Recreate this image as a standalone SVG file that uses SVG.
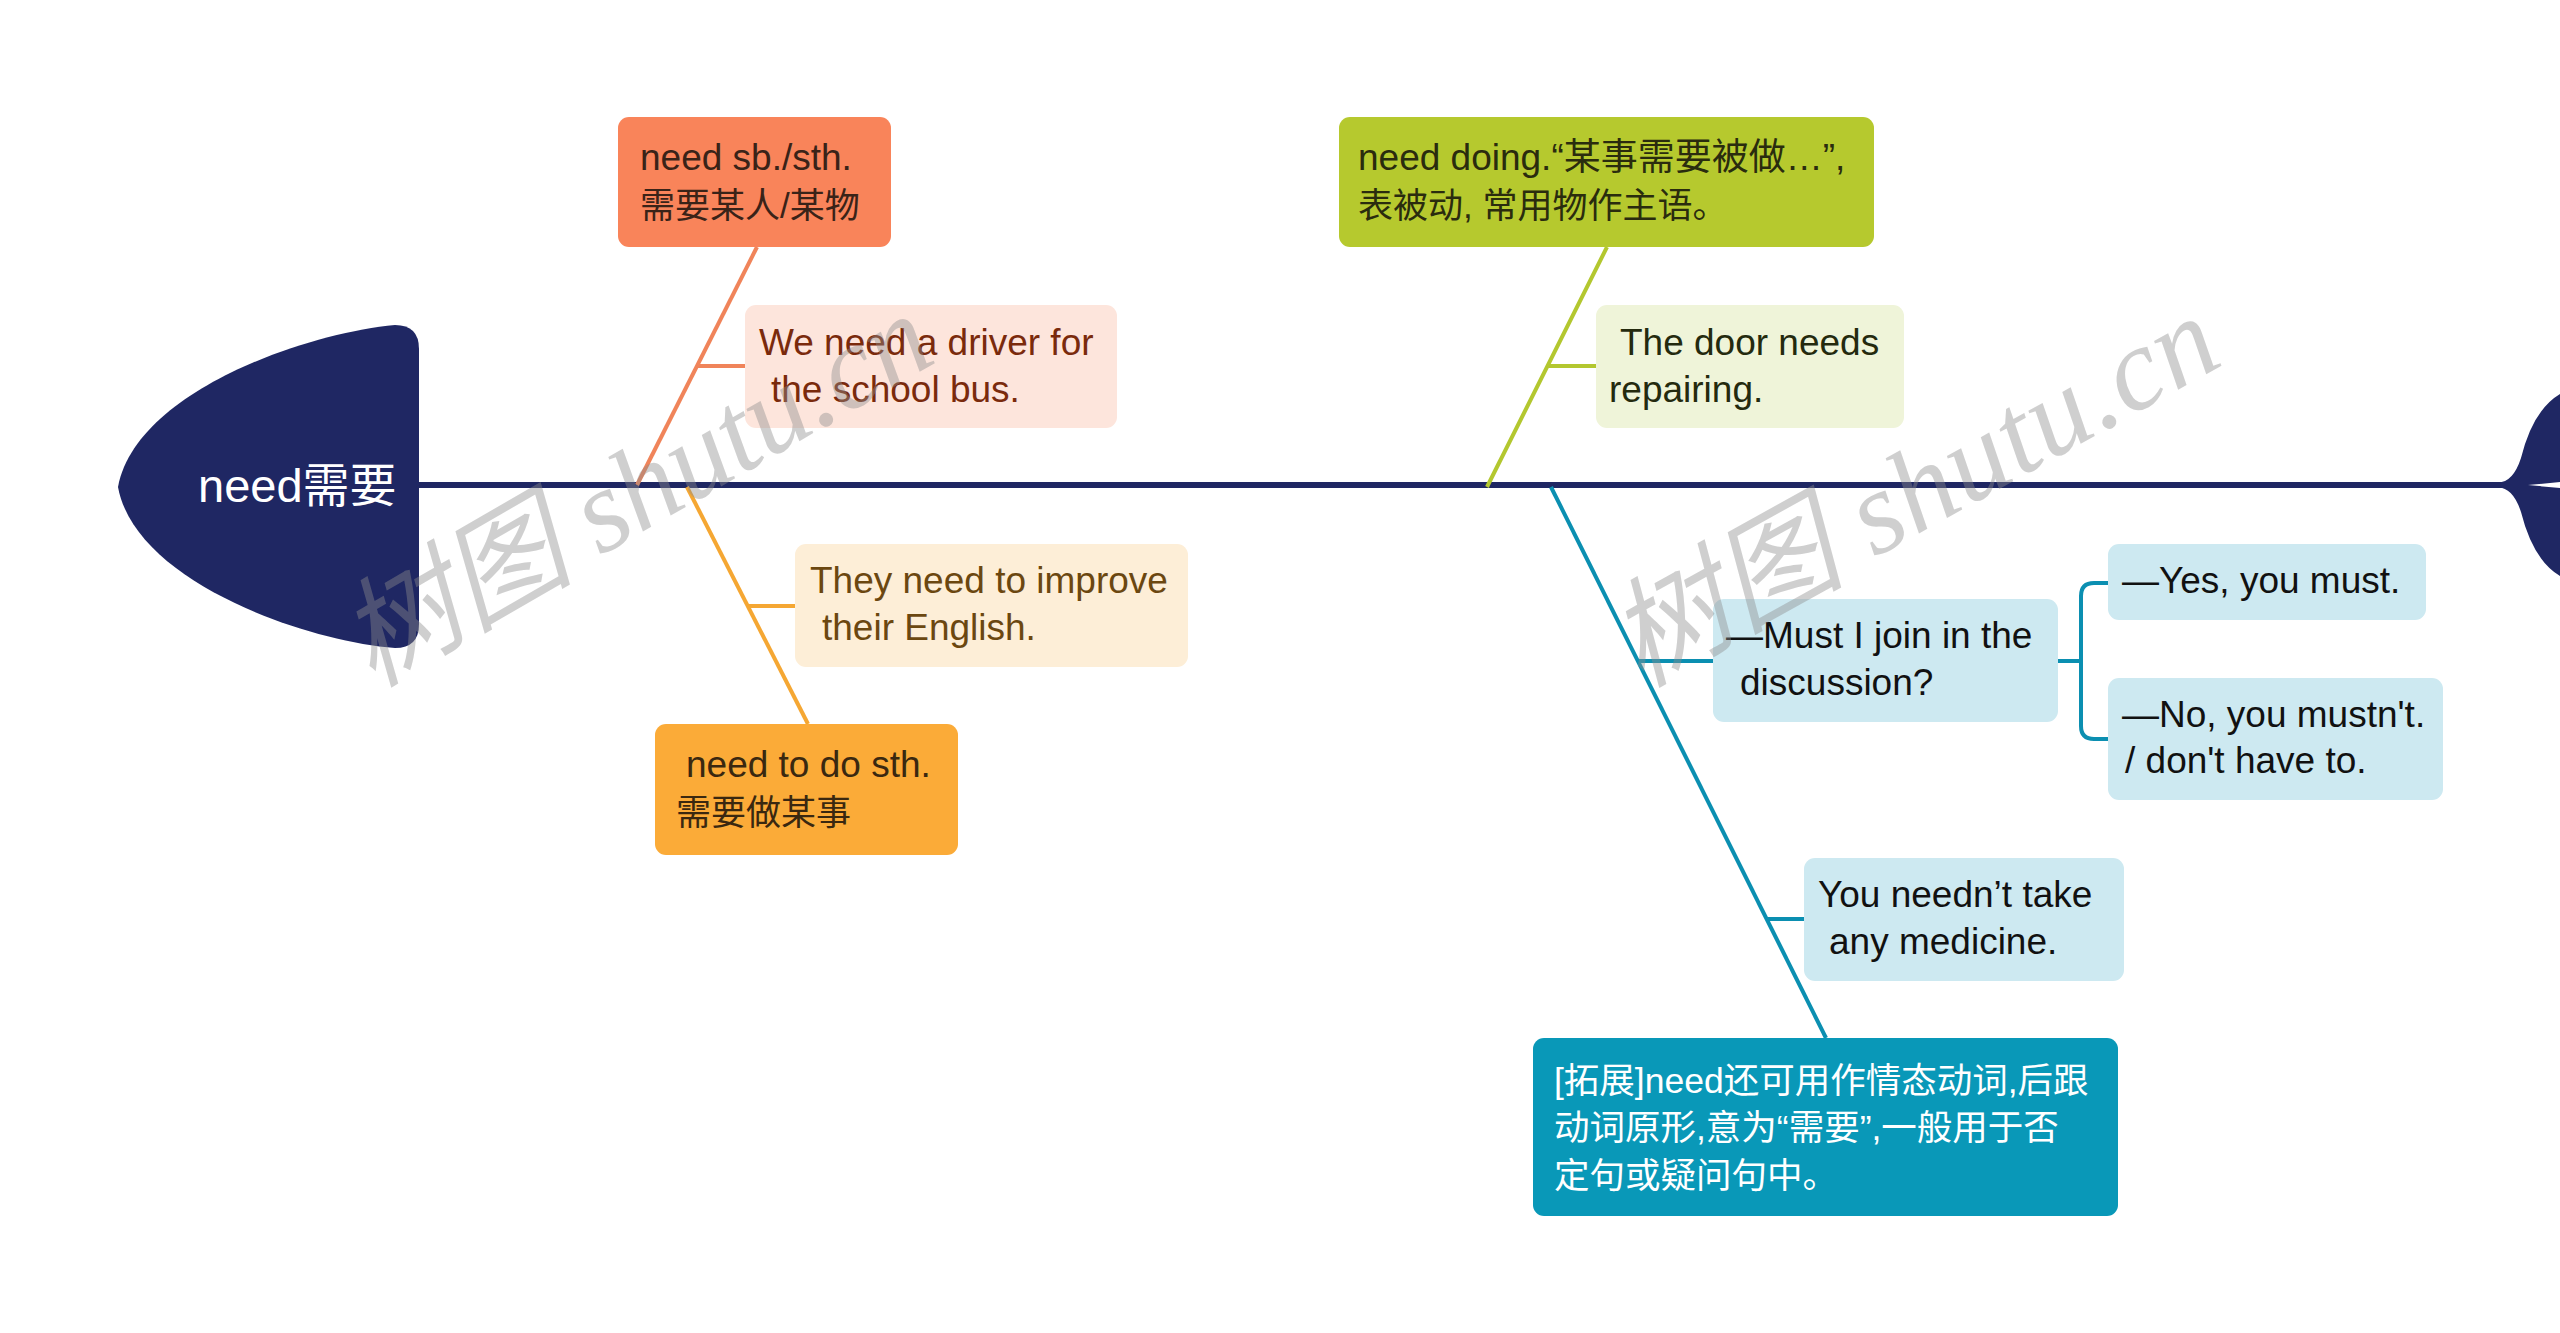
<svg xmlns="http://www.w3.org/2000/svg" width="2560" height="1333" viewBox="0 0 2560 1333">
<style>
  .t { font-family: "Liberation Sans", "Noto Sans CJK SC", sans-serif; font-size: 37px; }
  .cj { font-size: 35px; }
  .head { font-family: "Liberation Sans", "Noto Sans CJK SC", sans-serif; font-size: 47px; fill: #ffffff; }
  .ln { fill: none; stroke-width: 4; stroke-linecap: butt; }
  .wm { font-family: "Liberation Serif", "Noto Sans CJK SC", serif; font-style: italic; font-size: 118px; fill: #8c8c8c; fill-opacity: 0.42; }
</style>
<rect width="2560" height="1333" fill="#ffffff"/>

<g id="connectors">
  <line x1="419" y1="485" x2="2505" y2="485" stroke="#1f2763" stroke-width="6"/>
  <line class="ln" x1="637" y1="485" x2="757" y2="247" stroke="#f0845a"/>
  <line class="ln" x1="697" y1="366" x2="745" y2="366" stroke="#f0845a"/>
  <line class="ln" x1="687" y1="487" x2="808" y2="724" stroke="#f5a733"/>
  <line class="ln" x1="748" y1="606" x2="795" y2="606" stroke="#f5a733"/>
  <line class="ln" x1="1487" y1="487" x2="1607" y2="247" stroke="#b3c72f"/>
  <line class="ln" x1="1547" y1="366" x2="1596" y2="366" stroke="#b3c72f"/>
  <line class="ln" x1="1551" y1="487" x2="1826" y2="1038" stroke="#0b8fb1"/>
  <line class="ln" x1="1638" y1="661" x2="1713" y2="661" stroke="#0b8fb1"/>
  <line class="ln" x1="1767" y1="919" x2="1804" y2="919" stroke="#0b8fb1"/>
  <path class="ln" d="M2058,661 L2081,661 M2108,583 L2094,583 Q2081,583 2081,596 L2081,726 Q2081,739 2094,739 L2108,739" stroke="#0b8fb1"/>
</g>

<g id="node-head">
  <path d="M395,325 Q419,325 419,349 L419,624 Q419,648 395,648 C300,640 135,580 118,487 C135,394 300,334 395,325 Z" fill="#1f2763"/>
  <text class="head" x="198" y="502">need需要</text>
</g>

<g id="node-tail">
  <path d="M2498,482.5 Q2513,482.5 2521,458 Q2533,410 2560,394 L2560,482 L2528,485 L2560,488 L2560,576 Q2533,560 2521,512 Q2513,487.5 2498,487.5 Z" fill="#1f2763"/>
</g>

<g id="node-need-sb">
  <rect x="618" y="117" width="273" height="130" rx="11" fill="#f9845a"/>
  <text class="t" fill="#3a2318"><tspan x="640" y="170">need sb./sth.</tspan><tspan class="cj" x="640" y="218">需要某人/某物</tspan></text>
</g>

<g id="node-driver">
  <rect x="745" y="305" width="372" height="123" rx="11" fill="#fde5dc"/>
  <text class="t" fill="#7a2a0c"><tspan x="759" y="355">We need a driver for</tspan><tspan x="771" y="402">the school bus.</tspan></text>
</g>

<g id="node-improve">
  <rect x="795" y="544" width="393" height="123" rx="11" fill="#fdeed7"/>
  <text class="t" fill="#6b4710"><tspan x="810" y="593">They need to improve</tspan><tspan x="822" y="640">their English.</tspan></text>
</g>

<g id="node-need-to-do">
  <rect x="655" y="724" width="303" height="131" rx="11" fill="#fbab38"/>
  <text class="t" fill="#3a2810"><tspan x="686" y="777">need to do sth.</tspan><tspan class="cj" x="676" y="825">需要做某事</tspan></text>
</g>

<g id="node-need-doing">
  <rect x="1339" y="117" width="535" height="130" rx="11" fill="#b6c92e"/>
  <text class="t" fill="#2a2c0e"><tspan x="1358" y="170">need doing.“某事需要被做…”,</tspan><tspan class="cj" x="1358" y="218">表被动, 常用物作主语。</tspan></text>
</g>

<g id="node-door">
  <rect x="1596" y="305" width="308" height="123" rx="11" fill="#eff4d9"/>
  <text class="t" fill="#242a0e"><tspan x="1620" y="355">The door needs</tspan><tspan x="1609" y="402">repairing.</tspan></text>
</g>

<g id="node-must">
  <rect x="1713" y="599" width="345" height="123" rx="11" fill="#cde9f1"/>
  <text class="t" fill="#111111"><tspan x="1726" y="648">—Must I join in the</tspan><tspan x="1740" y="695">discussion?</tspan></text>
</g>

<g id="node-yes">
  <rect x="2108" y="544" width="318" height="76" rx="11" fill="#cde9f1"/>
  <text class="t" fill="#111111" x="2122" y="593">—Yes, you must.</text>
</g>

<g id="node-no">
  <rect x="2108" y="678" width="335" height="122" rx="11" fill="#cde9f1"/>
  <text class="t" fill="#111111"><tspan x="2122" y="727">—No, you mustn't.</tspan><tspan x="2125" y="773">/ don't have to.</tspan></text>
</g>

<g id="node-neednt">
  <rect x="1804" y="858" width="320" height="123" rx="11" fill="#cde9f1"/>
  <text class="t" fill="#111111"><tspan x="1818" y="907">You needn’t take</tspan><tspan x="1829" y="954">any medicine.</tspan></text>
</g>

<g id="node-extend">
  <rect x="1533" y="1038" width="585" height="178" rx="11" fill="#0998b8"/>
  <text class="t cj" fill="#ffffff" style="font-size:35.5px"><tspan x="1554" y="1093">[拓展]need还可用作情态动词,后跟</tspan><tspan x="1554" y="1140">动词原形,意为“需要”,一般用于否</tspan><tspan x="1554" y="1188">定句或疑问句中。</tspan></text>
</g>

<g id="watermarks">
  <text class="wm" x="372" y="688" transform="rotate(-30 372 688)" textLength="655" lengthAdjust="spacing">树图 shutu.cn</text>
  <text class="wm" x="1640" y="688" transform="rotate(-29 1640 688)" textLength="670" lengthAdjust="spacing">树图 shutu.cn</text>
</g>
</svg>
